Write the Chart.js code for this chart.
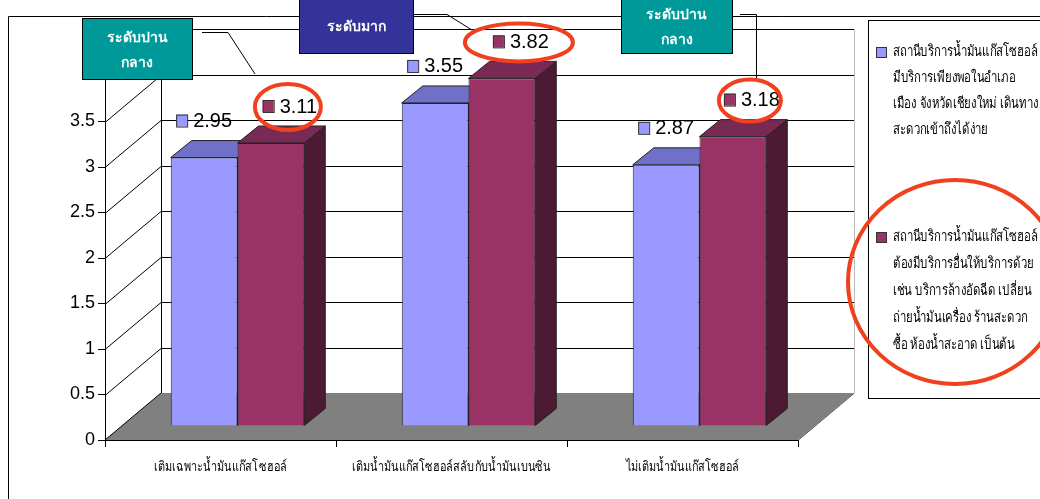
<!DOCTYPE html>
<html>
<head>
<meta charset="utf-8">
<script src="https://cdn.jsdelivr.net/npm/chart.js@4.4.1/dist/chart.umd.min.js"></script>
<style>
  html, body { margin: 0; padding: 0; background: #fff; }
  #wrap { position: relative; width: 1040px; height: 499px; }
</style>
</head>
<body>
<div id="wrap"><canvas id="chart" width="1040" height="499"></canvas></div>
<script>
// ข้อมูลของกราฟ
const categories = [
  "เติมเฉพาะน้ำมันแก๊สโซฮอล์",
  "เติมน้ำมันแก๊สโซฮอล์สลับกับน้ำมันเบนซิน",
  "ไม่เติมน้ำมันแก๊สโซฮอล์"
];
const enoughStations = [2.95, 3.55, 2.87];
const otherServices = [3.11, 3.82, 3.18];
const legendEnough = [
  "สถานีบริการน้ำมันแก๊สโซฮอล์",
  "มีบริการเพียงพอในอำเภอ",
  "เมือง จังหวัดเชียงใหม่ เดินทาง",
  "สะดวกเข้าถึงได้ง่าย"
];
const legendOther = [
  "สถานีบริการน้ำมันแก๊สโซฮอล์",
  "ต้องมีบริการอื่นให้บริการด้วย",
  "เช่น บริการล้างอัดฉีด เปลี่ยน",
  "ถ่ายน้ำมันเครื่อง ร้านสะดวก",
  "ซื้อ ห้องน้ำสะอาด เป็นต้น"
];
const yMax = 4;
const yStep = 0.5;

const thaiFont = "'Noto Sans', 'DejaVu Sans', sans-serif";
const numFont = "'Liberation Sans', Arial, sans-serif";

// สีของแท่ง (หน้า, บน, ข้าง)
const colors = [
  { front: "#9999FF", top: "#7070C8", side: "#5A5AA8" },
  { front: "#993366", top: "#782A55", side: "#4D1A33" }
];

// ระยะความลึกแบบ 3 มิติ
const wallDx = 56, wallDy = -47;   // ผนังหลัง
const barDx = 17, barDy = -14;     // ระนาบของแท่ง
const depthDx = 21, depthDy = -17; // ความลึกของแท่ง

// เขียนข้อความแบบบีบแนวนอน (ให้คล้ายฟอนต์ไทยแบบแคบ)
function narrowText(ctx, txt, x, y, sx) {
  ctx.save();
  ctx.translate(x, y);
  ctx.scale(sx, 1);
  ctx.fillText(txt, 0, 0);
  ctx.restore();
}

const threeD = {
  id: "threeD",
  beforeDatasetsDraw(chart) {
    const ctx = chart.ctx;
    const { left, right, top, bottom } = chart.chartArea;
    const y = chart.scales.y;
    ctx.save();
    // พื้น
    ctx.fillStyle = "#808080";
    ctx.beginPath();
    ctx.moveTo(left, bottom);
    ctx.lineTo(right, bottom);
    ctx.lineTo(right + wallDx, bottom + wallDy);
    ctx.lineTo(left + wallDx, bottom + wallDy);
    ctx.closePath();
    ctx.fill();
    ctx.strokeStyle = "#555";
    ctx.lineWidth = 1;
    ctx.beginPath();
    ctx.moveTo(right + 0.5, bottom);
    ctx.lineTo(right + wallDx + 0.5, bottom + wallDy);
    ctx.stroke();
    ctx.strokeStyle = "#000";
    ctx.beginPath();
    ctx.moveTo(left, bottom);
    ctx.lineTo(left + wallDx, bottom + wallDy);
    ctx.stroke();

    // เส้นตารางผนังหลังและผนังซ้าย
    for (let v = yStep; v <= yMax + 0.001; v += yStep) {
      const py = Math.round(y.getPixelForValue(v)) + 0.5;
      ctx.strokeStyle = "#000";
      ctx.beginPath();
      ctx.moveTo(left + wallDx, py + wallDy);
      ctx.lineTo(right + wallDx, py + wallDy);
      ctx.stroke();
      ctx.beginPath();
      ctx.moveTo(left, py);
      ctx.lineTo(left + wallDx, py + wallDy);
      ctx.stroke();
    }
    ctx.beginPath();
    ctx.moveTo(left + wallDx + 0.5, bottom + wallDy);
    ctx.lineTo(left + wallDx + 0.5, top + wallDy);
    ctx.stroke();
    ctx.strokeStyle = "#bbb";
    ctx.beginPath();
    ctx.moveTo(right + wallDx + 0.5, bottom + wallDy);
    ctx.lineTo(right + wallDx + 0.5, top + wallDy);
    ctx.stroke();

    // ด้านบนและด้านข้างของแท่ง
    ctx.translate(barDx, barDy);
    ctx.strokeStyle = "#222";
    chart.data.datasets.forEach((ds, i) => {
      const c = colors[i];
      chart.getDatasetMeta(i).data.forEach((bar) => {
        const { x, y: by, base, width } = bar.getProps(["x", "y", "base", "width"], true);
        const l = x - width / 2, r = x + width / 2;
        ctx.fillStyle = c.side;
        ctx.beginPath();
        ctx.moveTo(r, by);
        ctx.lineTo(r + depthDx, by + depthDy);
        ctx.lineTo(r + depthDx, base + depthDy);
        ctx.lineTo(r, base);
        ctx.closePath();
        ctx.fill();
        ctx.stroke();
        ctx.fillStyle = c.top;
        ctx.beginPath();
        ctx.moveTo(l, by);
        ctx.lineTo(l + depthDx, by + depthDy);
        ctx.lineTo(r + depthDx, by + depthDy);
        ctx.lineTo(r, by);
        ctx.closePath();
        ctx.fill();
        ctx.stroke();
      });
    });
  },
  afterDatasetsDraw(chart) {
    const ctx = chart.ctx;
    ctx.restore();
    // ป้ายค่าของแต่ละแท่ง
    ctx.save();
    ctx.font = "20px " + numFont;
    ctx.textBaseline = "middle";
    ctx.textAlign = "left";
    chart.data.datasets.forEach((ds, i) => {
      const shift = i === 0 ? 0 : 19;
      chart.getDatasetMeta(i).data.forEach((bar, j) => {
        const txt = String(ds.data[j]);
        const tw = ctx.measureText(txt).width;
        const cx = bar.x + barDx + shift;
        const cy = bar.y + barDy - 37;
        const gl = cx - (17 + tw) / 2;
        ctx.fillStyle = colors[i].front;
        ctx.fillRect(gl, cy - 6, 11, 12);
        ctx.strokeStyle = "#333";
        ctx.lineWidth = 1;
        ctx.strokeRect(gl + 0.5, cy - 5.5, 11, 12);
        ctx.fillStyle = "#000";
        ctx.fillText(txt, gl + 17, cy + 1);
        if (i === 1) {
          const rad = [[33, 23], [54, 19], [31, 21]][j];
          ctx.save();
          ctx.strokeStyle = "#F0401E";
          ctx.lineWidth = 4;
          ctx.beginPath();
          ctx.ellipse(cx - 2, cy + 1, rad[0], rad[1], 0, 0, Math.PI * 2);
          ctx.stroke();
          ctx.restore();
        }
      });
    });
    ctx.restore();
  },
  afterDraw(chart) {
    const ctx = chart.ctx;
    const xs = chart.scales.x;
    ctx.save();
    ctx.strokeStyle = "#000";
    ctx.lineWidth = 1;

    // ชื่อกลุ่มบนแกน x
    ctx.fillStyle = "#000";
    ctx.font = "14px " + thaiFont;
    ctx.textAlign = "center";
    ctx.textBaseline = "middle";
    categories.forEach((c, i) => narrowText(ctx, c, xs.getPixelForTick(i), 467, 0.78));

    // กรอบนอก
    ctx.beginPath();
    ctx.moveTo(8.5, 499);
    ctx.lineTo(8.5, 16.5);
    ctx.lineTo(1040, 16.5);
    ctx.stroke();

    // เส้นชี้
    ctx.beginPath();
    ctx.moveTo(202, 32.5); ctx.lineTo(228, 32.5); ctx.lineTo(255, 74);
    ctx.moveTo(413, 14.5); ctx.lineTo(447, 14.5); ctx.lineTo(472, 30);
    ctx.moveTo(740, 14.5); ctx.lineTo(756.5, 14.5); ctx.lineTo(756.5, 78);
    ctx.stroke();

    // กล่องข้อความ
    const boxes = [
      { x: 82, y: 18, w: 110, h: 61, fill: "#009999", lines: ["ระดับปาน", "กลาง"] },
      { x: 299, y: -2, w: 114, h: 55, fill: "#333399", lines: ["ระดับมาก"] },
      { x: 621, y: -2, w: 111, h: 55, fill: "#009999", lines: ["ระดับปาน", "กลาง"] }
    ];
    boxes.forEach((b) => {
      ctx.fillStyle = b.fill;
      ctx.fillRect(b.x, b.y, b.w, b.h);
      ctx.strokeStyle = "#000";
      ctx.strokeRect(b.x + 0.5, b.y + 0.5, b.w, b.h);
      ctx.fillStyle = "#fff";
      ctx.font = "bold 14px " + thaiFont;
      ctx.textAlign = "center";
      ctx.textBaseline = "middle";
      const gap = 25;
      const y0 = b.y + b.h / 2 - (b.lines.length - 1) * gap / 2 + 2;
      b.lines.forEach((t, k) => ctx.fillText(t, b.x + b.w / 2, y0 + k * gap));
    });

    // คำอธิบายสัญลักษณ์
    ctx.strokeStyle = "#000";
    ctx.strokeRect(868.5, 20.5, 180, 378);
    ctx.font = "15px " + thaiFont;
    ctx.textAlign = "left";
    ctx.textBaseline = "middle";
    const entries = [
      { lines: legendEnough, y: 52, gap: 26 },
      { lines: legendOther, y: 237, gap: 27 }
    ];
    entries.forEach((e, i) => {
      ctx.fillStyle = colors[i].front;
      ctx.fillRect(876, e.y - 5, 10, 10);
      ctx.strokeStyle = "#333";
      ctx.strokeRect(876.5, e.y - 4.5, 10, 10);
      ctx.fillStyle = "#000";
      e.lines.forEach((t, k) => narrowText(ctx, t, 893, e.y + k * e.gap, 0.76));
    });

    // วงรีบนคำอธิบาย
    ctx.strokeStyle = "#F0401E";
    ctx.lineWidth = 4;
    ctx.beginPath();
    ctx.ellipse(955, 282, 107, 102, 0, 0, Math.PI * 2);
    ctx.stroke();
    ctx.restore();
  }
};

new Chart(document.getElementById("chart"), {
  type: "bar",
  data: {
    labels: categories,
    datasets: [
      {
        label: legendEnough.join(" "),
        data: enoughStations,
        backgroundColor: colors[0].front,
        borderColor: "#222",
        borderWidth: 1
      },
      {
        label: legendOther.join(" "),
        data: otherServices,
        backgroundColor: colors[1].front,
        borderColor: "#222",
        borderWidth: 1
      }
    ]
  },
  options: {
    responsive: false,
    animation: false,
    devicePixelRatio: 1,
    layout: { padding: { top: 76, right: 242, left: 0, bottom: 0 } },
    datasets: { bar: { categoryPercentage: 0.578, barPercentage: 1 } },
    plugins: {
      legend: { display: false },
      tooltip: { enabled: false },
      title: { display: false }
    },
    scales: {
      x: {
        grid: { drawOnChartArea: false, drawTicks: true, tickLength: 7, color: "#000", offset: true },
        border: { color: "#000" },
        ticks: { display: false },
        afterFit: (s) => { s.height = 59; }
      },
      y: {
        min: 0,
        max: yMax,
        grid: { drawOnChartArea: false, drawTicks: true, tickLength: 7, color: "#000" },
        border: { color: "#000" },
        ticks: {
          stepSize: yStep,
          color: "#000",
          padding: 3,
          font: { family: numFont, size: 18 },
          callback: (v) => (v >= yMax ? "" : v)
        },
        afterFit: (s) => { s.width = 105; }
      }
    }
  },
  plugins: [threeD]
});
</script>
</body>
</html>
